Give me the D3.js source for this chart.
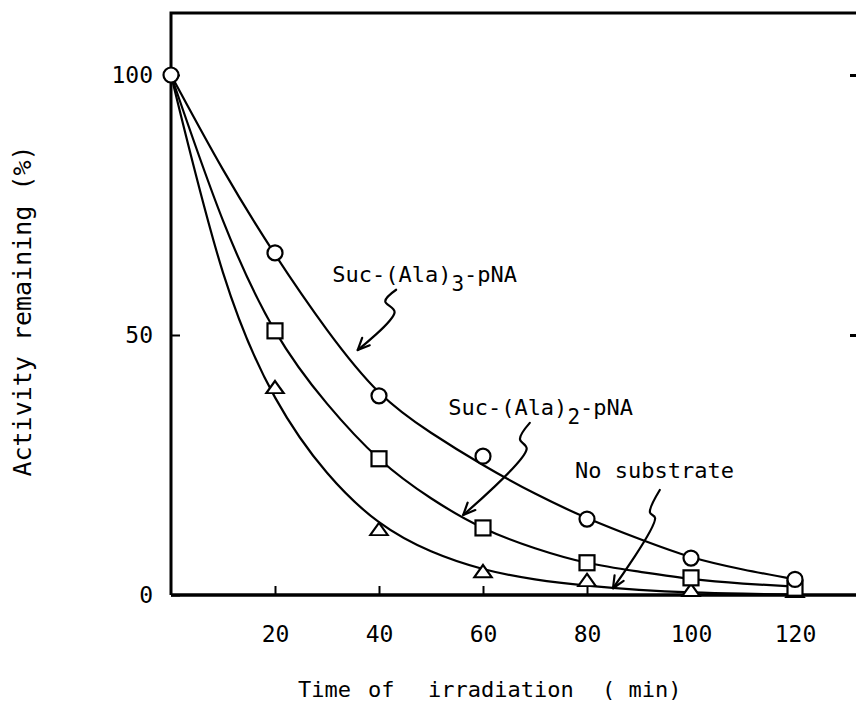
<!DOCTYPE html>
<html>
<head>
<meta charset="utf-8">
<script src="https://cdn.jsdelivr.net/npm/d3@7"></script>
<style>
  body { margin: 0; background: #fff; }
  svg text { font-family: "DejaVu Sans Mono", monospace; fill: #000; }
</style>
</head>
<body>
<svg id="chart" width="856" height="704"></svg>
<script>
// ---------- data ----------
const xTickValues = [20, 40, 60, 80, 100, 120];
const yTickValues = [0, 50, 100];

// smooth fitted curves (every 10 min)
const curveTimes = [0, 10, 20, 30, 40, 50, 60, 70, 80, 90, 100, 110, 120];
const curveSuc3  = [100, 81.8, 65.5, 51, 39, 31.2, 25.0, 19.5, 14.8, 10.8, 7.3, 4.9, 3.0];
const curveSuc2  = [100, 72, 50.8, 36.8, 26.2, 18.6, 12.9, 9.0, 6.2, 4.5, 3.1, 2.2, 1.6];
const curveNone  = [100, 62, 38, 23.5, 14, 8.4, 5.0, 3.0, 1.8, 1.0, 0.5, 0.25, 0.1];

// measured points
const markTimes = [20, 40, 60, 80, 100, 120];
const startTime = 0, startValue = 100;
const markSuc3 = [65.8, 38.3, 26.7, 14.6, 7.1, 3.0];   // circles
const markSuc2 = [50.8, 26.2, 12.9, 6.2, 3.3, 1.3];    // squares
const markNone = [39.6, 12.3, 4.2, 2.5, 0.6, 0.4];     // triangles

const xTitleWords = ["Time", "of", "irradiation", "( min)"];
const yTitle = "Activity remaining (%)";

// annotation labels (positions in data units: time, activity)
const annotations = [
  { pre: "Suc-(Ala)", sub: "3", post: "-pNA", at: [31.0, 60.2],
    squiggle: [[43.3, 58.7], [41.2, 56.5], [43.0, 54.4]], tip: [35.9, 47.1] },
  { pre: "Suc-(Ala)", sub: "2", post: "-pNA", at: [53.3, 34.6],
    squiggle: [[69.0, 33.1], [67.1, 30.0], [68.4, 28.1]], tip: [56.2, 15.4] },
  { pre: "No substrate", sub: "", post: "", at: [77.7, 22.5],
    squiggle: [[94.0, 20.2], [92.1, 15.9], [93.1, 14.8]], tip: [85.0, 1.3] }
];

// ---------- drawing ----------
const W = 856, H = 704;
const svg = d3.select("#chart");
const x = d3.scaleLinear().domain([0, 120]).range([171, 795]);
const y = d3.scaleLinear().domain([0, 100]).range([595, 75]);

// frame (left, top, bottom; open to the right edge)
svg.append("path")
  .attr("d", `M${x(0)},${y(0)} V13 H${W}`)
  .attr("fill", "none").attr("stroke", "#000").attr("stroke-width", 3);
svg.append("path")
  .attr("d", `M${x(0)},${y(0)} H${W}`)
  .attr("fill", "none").attr("stroke", "#000").attr("stroke-width", 3.5);

// x axis
const gx = svg.append("g").attr("transform", `translate(0,${y(0)})`)
  .call(d3.axisBottom(x).tickValues(xTickValues).tickSizeInner(-9).tickSizeOuter(0).tickPadding(31));
gx.select(".domain").remove();
gx.attr("font-family", null).attr("font-size", null);
gx.selectAll(".tick line").attr("stroke-width", 2);
gx.selectAll(".tick text").attr("font-size", 23);

// y axis
const gy = svg.append("g").attr("transform", `translate(${x(0)},0)`)
  .call(d3.axisLeft(y).tickValues(yTickValues).tickSizeInner(-9).tickSizeOuter(0).tickPadding(18));
gy.select(".domain").remove();
gy.attr("font-family", null).attr("font-size", null);
gy.selectAll(".tick line").attr("stroke-width", 2);
gy.selectAll(".tick text").attr("font-size", 23);

// right-hand ticks (axis cut off at the edge)
const gr = svg.append("g").attr("transform", `translate(${W},0)`)
  .call(d3.axisRight(y).tickValues([50, 100]).tickSizeInner(-6).tickSizeOuter(0).tickFormat(""));
gr.select(".domain").remove();
gr.selectAll(".tick line").attr("stroke-width", 3);

// axis titles
const xTitleX = [298, 368, 428, 602];
const xt = svg.append("text").attr("y", 697).attr("font-size", 22);
xTitleWords.forEach((w, i) => {
  xt.append("tspan").attr("x", xTitleX[i]).text(w);
});
svg.append("text")
  .attr("transform", "translate(31,311) rotate(-90)")
  .attr("text-anchor", "middle")
  .attr("font-size", 25)
  .text(yTitle);

// curves
const line = d3.line().x(d => x(d[0])).y(d => y(d[1])).curve(d3.curveNatural);
[curveSuc3, curveSuc2, curveNone].forEach(vals => {
  svg.append("path")
    .datum(curveTimes.map((t, i) => [t, vals[i]]))
    .attr("d", line)
    .attr("fill", "none").attr("stroke", "#000").attr("stroke-width", 2.2);
});

// markers
const mk = svg.append("g").attr("fill", "#fff").attr("stroke", "#000").attr("stroke-width", 2.2);
const tri = d3.symbol().type(d3.symbolTriangle).size(120);
mk.selectAll("path.tri").data(markTimes.map((t, i) => [t, markNone[i]])).join("path")
  .attr("class", "tri")
  .attr("d", tri)
  .attr("transform", d => `translate(${x(d[0])},${y(d[1])}) scale(1.05,0.85)`);
mk.selectAll("rect.sq").data(markTimes.map((t, i) => [t, markSuc2[i]])).join("rect")
  .attr("class", "sq")
  .attr("x", d => x(d[0]) - 7.5).attr("y", d => y(d[1]) - 7.5)
  .attr("width", 15).attr("height", 15);
mk.selectAll("circle.ci").data([[startTime, startValue]].concat(markTimes.map((t, i) => [t, markSuc3[i]]))).join("circle")
  .attr("class", "ci")
  .attr("cx", d => x(d[0])).attr("cy", d => y(d[1])).attr("r", 7.5);

// annotations
const squig = d3.line().x(d => d[0]).y(d => d[1]).curve(d3.curveCatmullRom);
annotations.forEach(a => {
  const t = svg.append("text").attr("x", x(a.at[0])).attr("y", y(a.at[1])).attr("font-size", 22);
  t.append("tspan").text(a.pre);
  if (a.sub) {
    t.append("tspan").attr("dy", 9).attr("font-size", 21).text(a.sub);
    t.append("tspan").attr("dy", -9).text(a.post);
  }
  const pts = a.squiggle.map(p => [x(p[0]), y(p[1])]);
  const tip = [x(a.tip[0]), y(a.tip[1])];
  const g = svg.append("g").attr("fill", "none").attr("stroke", "#000").attr("stroke-width", 2.2)
    .attr("stroke-linecap", "round").attr("stroke-linejoin", "round");
  g.append("path").attr("d", squig(pts.concat([tip])) );
  // arrow head
  const last = pts[pts.length - 1];
  const ang = Math.atan2(tip[1] - last[1], tip[0] - last[0]);
  const L = 13, spread = 0.42;
  const a1 = [tip[0] - L * Math.cos(ang - spread), tip[1] - L * Math.sin(ang - spread)];
  const a2 = [tip[0] - L * Math.cos(ang + spread), tip[1] - L * Math.sin(ang + spread)];
  g.append("path").attr("d", `M${a1[0]},${a1[1]} L${tip[0]},${tip[1]} L${a2[0]},${a2[1]}`);
});
</script>
</body>
</html>
